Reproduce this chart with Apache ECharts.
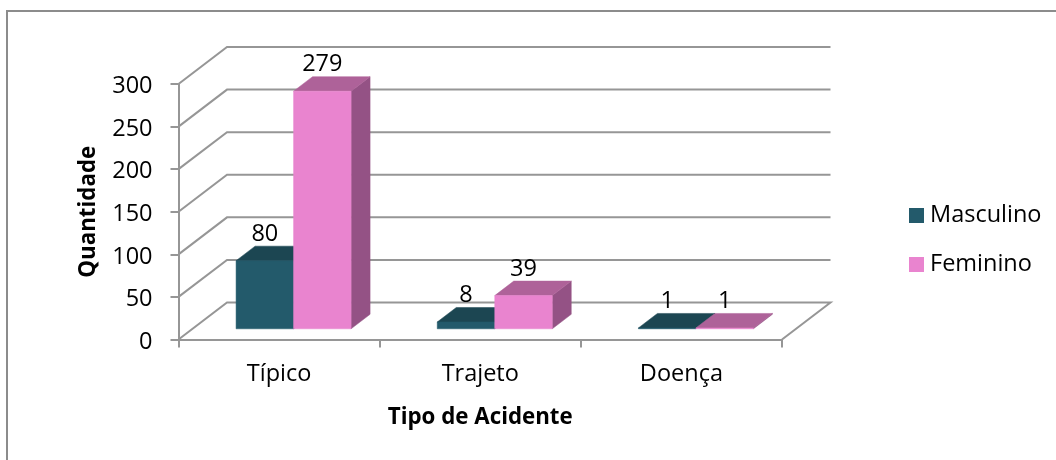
<!DOCTYPE html>
<html><head><meta charset="utf-8">
<style>html,body{margin:0;padding:0;background:#fff}#c{width:1056px;height:460px}</style>
<script src="https://cdn.jsdelivr.net/npm/echarts@6/dist/echarts.min.js"></script>
</head><body><div id="c"></div>
<script>
const categories = ['Típico', 'Trajeto', 'Doença'];
const masculino = [80, 8, 1];
const feminino = [279, 39, 1];
const yTicks = [0, 50, 100, 150, 200, 250, 300];

const FONT = '"Open Sans"';
const SIZE = 23.5;
const BOLD = 22.3;
const WALL = [48.5, -37];
const BAR_OFFSET = [14.5, -10.7];
const BAR_DEPTH = [19, -14.5];
const BAR_W = 57.5;
const GRAY = '#969696';
const TEAL = {front:'#235a6b', top:'#1c4652', side:'#1a424e'};
const PINK = {front:'#e984cf', top:'#ae6299', side:'#945285'};

function wallItem(params, api) {
  const c = api.coord([0, api.value(0)]);
  const band = api.size([1, 0])[0];
  const xl = c[0] - band / 2, xr = xl + band * categories.length, y = c[1];
  const isFloor = api.value(0) === 0;
  const pts = [[xl, y], [xl + WALL[0], y + WALL[1]], [xr + WALL[0], y + WALL[1]]];
  if (isFloor) pts.push([xr, y]);
  return {type:'polyline', shape:{points:pts}, style:{stroke:GRAY, lineWidth:2, fill:null}, silent:true};
}

function barRenderer(colors, dir) {
  return function (params, api) {
    const idx = api.value(0), val = api.value(1);
    const base = api.coord([idx, 0]), top = api.coord([idx, val]);
    const xc = base[0] + BAR_OFFSET[0];
    const x0 = dir < 0 ? xc - BAR_W : xc, x1 = x0 + BAR_W;
    const yb = base[1] + BAR_OFFSET[1], yt = top[1] + BAR_OFFSET[1];
    const dx = BAR_DEPTH[0], dy = BAR_DEPTH[1];
    const poly = (pts, fill) => ({type:'polygon', shape:{points:pts}, style:{fill, stroke:fill, lineWidth:0.5}});
    return {type:'group', children:[
      poly([[x1,yb],[x1+dx,yb+dy],[x1+dx,yt+dy],[x1,yt]], colors.side),
      poly([[x0,yt],[x1,yt],[x1+dx,yt+dy],[x0+dx,yt+dy]], colors.top),
      poly([[x0,yb],[x1,yb],[x1,yt],[x0,yt]], colors.front),
      {type:'text', z2:10, style:{text:String(val), x:(x0+x1)/2, y:yt-26.5, align:'center', verticalAlign:'middle',
        font:SIZE+'px '+FONT, fill:'#000'}}
    ]};
  };
}

const chart = echarts.init(document.getElementById('c'), null, {renderer:'canvas'});
chart.setOption({
  animation:false,
  backgroundColor:'#fff',
  textStyle:{fontFamily:FONT},
  graphic:[{type:'polyline', shape:{points:[[7,460],[7,11],[1056,11]]}, style:{stroke:'#8c8c8c', lineWidth:2, fill:null}, silent:true}],
  grid:{left:178.5, right:274, top:84, bottom:120.5, containLabel:false},
  legend:{orient:'vertical', left:909, top:202, padding:0, itemWidth:15, itemHeight:15, itemGap:22,
    data:['Masculino','Feminino'], icon:'rect', selectedMode:false,
    textStyle:{fontSize:SIZE, fontFamily:FONT, color:'#000', lineHeight:24, padding:[3,0,0,1]}},
  xAxis:{type:'category', data:categories,
    axisLine:{lineStyle:{color:GRAY,width:2}}, axisTick:{show:true,length:8,lineStyle:{color:GRAY,width:2}},
    axisLabel:{color:'#000',fontSize:SIZE,fontFamily:FONT,margin:23},
    name:'Tipo de Acidente', nameLocation:'middle', nameGap:67,
    nameTextStyle:{color:'#000',fontSize:BOLD,fontWeight:'bold',fontFamily:FONT}},
  yAxis:{type:'value', min:0, max:300, interval:50,
    axisLine:{show:true,lineStyle:{color:GRAY,width:2}}, axisTick:{show:true,length:8,lineStyle:{color:GRAY,width:2}},
    splitLine:{show:false},
    axisLabel:{color:'#000',fontFamily:FONT,margin:26,formatter:'{t|{value}}',
      rich:{t:{fontSize:SIZE,fontFamily:FONT,color:'#000',padding:[5,0,0,0]}}},
    name:'Quantidade', nameLocation:'middle', nameGap:79, nameRotate:90,
    nameTextStyle:{color:'#000',fontSize:BOLD,fontWeight:'bold',fontFamily:FONT}},
  series:[
    {type:'custom', name:'walls', renderItem:wallItem, data:yTicks.map(v=>[v]), encode:{y:0}, clip:false, silent:true, z:1},
    {type:'custom', name:'Masculino', renderItem:barRenderer(TEAL,-1), data:masculino.map((v,i)=>[i,v]), encode:{x:0,y:1}, itemStyle:{color:TEAL.front}, clip:false, z:2},
    {type:'custom', name:'Feminino', renderItem:barRenderer(PINK,1), data:feminino.map((v,i)=>[i,v]), encode:{x:0,y:1}, itemStyle:{color:PINK.front}, clip:false, z:3}
  ]
});
</script></body></html>
